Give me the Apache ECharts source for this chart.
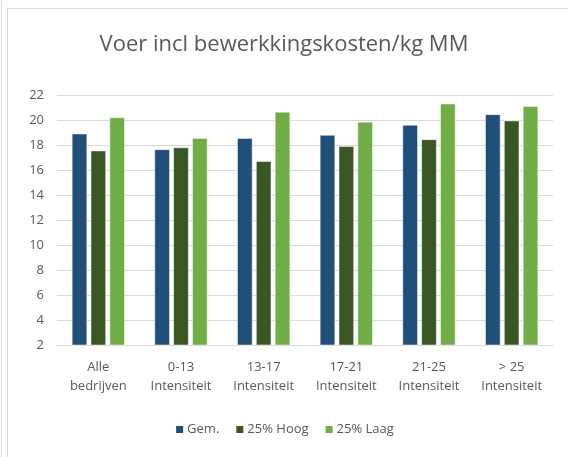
<!DOCTYPE html>
<html>
<head>
<meta charset="UTF-8">
<title></title>
<script src="https://cdn.jsdelivr.net/npm/echarts@6/dist/echarts.min.js"></script>
<style>
  html, body { margin: 0; padding: 0; background: #fff; }
  #frame { position: absolute; left: 7px; top: 8px; width: 580px; height: 470px; border: 1px solid #d9d9d9; }
  #side { position: absolute; left: 1px; top: 0; width: 1px; height: 457px; background: #e0e0e0; }
  #main { position: absolute; left: 0; top: 0; width: 568px; height: 457px; }
</style>
</head>
<body>
<div id="side"></div>
<div id="frame"></div>
<div id="main"></div>
<script>
  // categorieën en waarden
  var categories = ['Alle\nbedrijven', '0-13\nIntensiteit', '13-17\nIntensiteit', '17-21\nIntensiteit', '21-25\nIntensiteit', '> 25\nIntensiteit'];
  var gem = [18.9, 17.65, 18.55, 18.8, 19.6, 20.45];
  var hoog = [17.55, 17.8, 16.7, 17.9, 18.45, 19.95];
  var laag = [20.2, 18.55, 20.65, 19.85, 21.3, 21.1];
  var seriesNames = ['Gem.', '25% Hoog', '25% Laag'];

  var myChart = echarts.init(document.getElementById('main'));
  var font = '"Open Sans", "Noto Sans", sans-serif';

  var option = {
    backgroundColor: 'transparent',
    animation: false,
    title: {
      text: 'Voer incl bewerkkingskosten/kg MM',
      left: 'center',
      top: 29,
      textStyle: { color: '#595959', fontSize: 22, fontWeight: 'normal', fontFamily: font }
    },
    legend: {
      data: seriesNames,
      bottom: 16,
      left: 'center',
      itemWidth: 9,
      itemHeight: 9,
      itemGap: 15,
      icon: 'rect',
      textStyle: { color: '#595959', fontSize: 13, fontFamily: font, padding: [0, 0, 0, -2] }
    },
    grid: { left: 57, right: 15, top: 95, bottom: 112 },
    xAxis: {
      type: 'category',
      data: categories,
      axisTick: { show: false },
      axisLine: { lineStyle: { color: '#d9d9d9', width: 1 } },
      axisLabel: { color: '#595959', fontSize: 13, fontFamily: font, lineHeight: 19, margin: 13 }
    },
    yAxis: {
      type: 'value',
      min: 2,
      max: 22,
      interval: 2,
      axisLine: { show: false },
      axisTick: { show: false },
      splitLine: { lineStyle: { color: '#d9d9d9', width: 1 } },
      axisLabel: { color: '#595959', fontSize: 13, fontFamily: font, margin: 13 }
    },
    series: [
      { name: seriesNames[0], type: 'bar', data: gem, barGap: '24%', barCategoryGap: '36%',
        itemStyle: { color: '#1f4e79', borderColor: '#ffffff', borderWidth: 0.5 } },
      { name: seriesNames[1], type: 'bar', data: hoog,
        itemStyle: { color: '#3a5723', borderColor: '#ffffff', borderWidth: 0.5 } },
      { name: seriesNames[2], type: 'bar', data: laag,
        itemStyle: { color: '#70ad47', borderColor: '#ffffff', borderWidth: 0.5 } }
    ]
  };

  myChart.setOption(option);
</script>
</body>
</html>
